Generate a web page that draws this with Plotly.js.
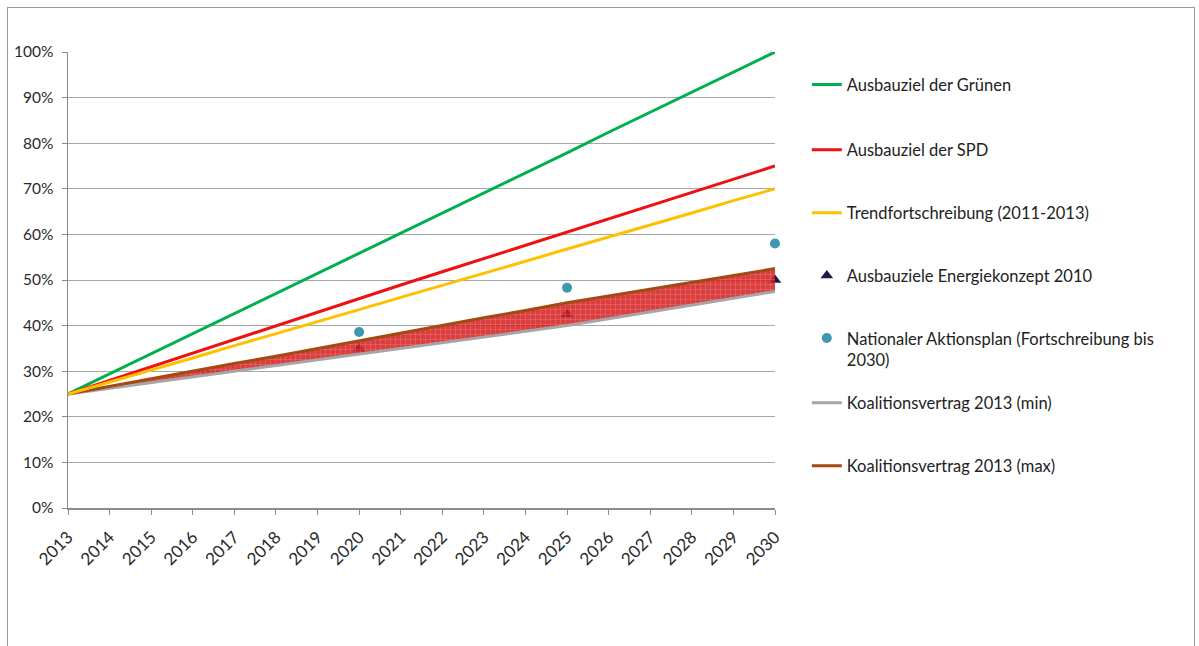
<!DOCTYPE html>
<html>
<head>
<meta charset="utf-8">
<script src="https://cdn.plot.ly/plotly-3.0.1.min.js"></script>
<style>
  html, body { margin: 0; padding: 0; background: #fff; }
  #frame { position: absolute; left: 7px; top: 7px; width: 1188px; height: 700px; border: 1.5px solid #9a9a9a; box-sizing: border-box; }
  #chart { position: absolute; left: 0; top: 0; width: 1199px; height: 646px; }
</style>
</head>
<body>
<div id="frame"></div>
<div id="chart"></div>
<script>
// ---- Data (shares of renewable electricity, fraction) ----
const years = [2013,2014,2015,2016,2017,2018,2019,2020,2021,2022,2023,2024,2025,2026,2027,2028,2029,2030];
const gruenen = [0.25,0.294,0.338,0.382,0.426,0.471,0.515,0.559,0.603,0.647,0.691,0.735,0.779,0.824,0.868,0.912,0.956,1.00];
const spd = [0.25,0.28,0.31,0.34,0.37,0.40,0.43,0.46,0.489,0.518,0.547,0.576,0.605,0.634,0.663,0.692,0.721,0.75];
const trend = [0.25,0.276,0.303,0.329,0.356,0.382,0.409,0.435,0.462,0.488,0.515,0.541,0.568,0.594,0.621,0.647,0.674,0.70];
const koalMin = [0.25,0.2625,0.275,0.2875,0.30,0.3125,0.325,0.3375,0.35,0.3625,0.375,0.3875,0.40,0.415,0.43,0.445,0.46,0.475];
const koalMax = [0.25,0.267,0.283,0.30,0.317,0.333,0.35,0.367,0.383,0.40,0.417,0.433,0.45,0.465,0.48,0.495,0.51,0.525];
const energieYears = [2020,2025,2030];
const energie = [0.35,0.425,0.50];
const napYears = [2020,2025,2030];
const nap = [0.386,0.483,0.58];
const yTicks = [0,0.1,0.2,0.3,0.4,0.5,0.6,0.7,0.8,0.9,1.0];
const names = {
  gruenen: 'Ausbauziel der Grünen',
  spd: 'Ausbauziel der SPD',
  trend: 'Trendfortschreibung (2011-2013)',
  energie: 'Ausbauziele Energiekonzept 2010',
  nap: 'Nationaler Aktionsplan (Fortschreibung bis<br>2030)',
  min: 'Koalitionsvertrag 2013 (min)',
  max: 'Koalitionsvertrag 2013 (max)'
};

const FONT = 'Lato, "Open Sans", sans-serif';

const traces = [
  {x: energieYears, y: energie, name: names.energie, mode: 'markers', type: 'scatter', legend: 'legend4',
   marker: {symbol: 'triangle-up', size: 11, color: '#1c1a4a'}, cliponaxis: false},
  {x: years, y: koalMin, name: names.min, mode: 'lines', type: 'scatter', legend: 'legend6',
   line: {color: '#a6a6a6', width: 3}},
  {x: years, y: koalMax, name: 'band', mode: 'lines', type: 'scatter', showlegend: false,
   line: {color: 'rgba(0,0,0,0)', width: 0}, fill: 'tonexty',
   fillcolor: 'rgba(212,28,28,0.85)',
   fillpattern: {shape: '+', size: 5, solidity: 0.1, fgcolor: 'rgba(245,170,170,0.9)', bgcolor: 'rgba(212,28,28,0.85)'}},
  {x: years, y: koalMax, name: names.max, mode: 'lines', type: 'scatter', legend: 'legend7',
   line: {color: '#a24a12', width: 3}},
  {x: years, y: gruenen, name: names.gruenen, mode: 'lines', type: 'scatter', legend: 'legend',
   line: {color: '#00b050', width: 3}},
  {x: years, y: spd, name: names.spd, mode: 'lines', type: 'scatter', legend: 'legend2',
   line: {color: '#ee1111', width: 3}},
  {x: years, y: trend, name: names.trend, mode: 'lines', type: 'scatter', legend: 'legend3',
   line: {color: '#ffc000', width: 3}},
  {x: napYears, y: nap, name: names.nap, mode: 'markers', type: 'scatter', legend: 'legend5',
   marker: {symbol: 'circle', size: 10, color: '#3e98b4'}, cliponaxis: false}
];

function leg(y, valign) {
  return {x: 1.045, xanchor: 'left', y: y, yanchor: 'middle', bgcolor: 'rgba(0,0,0,0)', borderwidth: 0,
          font: {family: FONT, size: 16.5, color: '#222'}, valign: valign || 'middle', itemwidth: 30};
}

const layout = {
  width: 1199, height: 646,
  margin: {l: 68, r: 424, t: 52, b: 138, autoexpand: false},
  paper_bgcolor: 'rgba(0,0,0,0)', plot_bgcolor: 'rgba(0,0,0,0)',
  showlegend: true,
  font: {family: FONT, size: 15, color: '#333'},
  xaxis: {
    range: [2013, 2030], tickmode: 'array', tickvals: years, ticktext: years.map(String),
    tickangle: -45, showgrid: false, zeroline: false,
    showline: true, linecolor: '#8c8c8c', linewidth: 1.5,
    ticks: 'outside', ticklen: 5, tickcolor: '#8c8c8c', ticklabelstandoff: 6,
    tickfont: {family: FONT, size: 17, color: '#2a2a2a'}
  },
  yaxis: {
    range: [0, 1], tickmode: 'array', tickvals: yTicks, tickformat: '.0%',
    showgrid: true, gridcolor: '#a8a8a8', gridwidth: 1, zeroline: false,
    showline: true, linecolor: '#8c8c8c', linewidth: 1.5,
    ticks: 'outside', ticklen: 5, tickcolor: '#8c8c8c', ticklabelstandoff: 5,
    tickfont: {family: FONT, size: 15.5, color: '#2a2a2a'}
  },
  legend: leg(0.928),
  legend2: leg(0.785),
  legend3: leg(0.647),
  legend4: leg(0.509),
  legend5: leg(0.349, 'top'),
  legend6: leg(0.230),
  legend7: leg(0.092)
};

Plotly.newPlot('chart', traces, layout, {displayModeBar: false, staticPlot: true});
</script>
</body>
</html>
